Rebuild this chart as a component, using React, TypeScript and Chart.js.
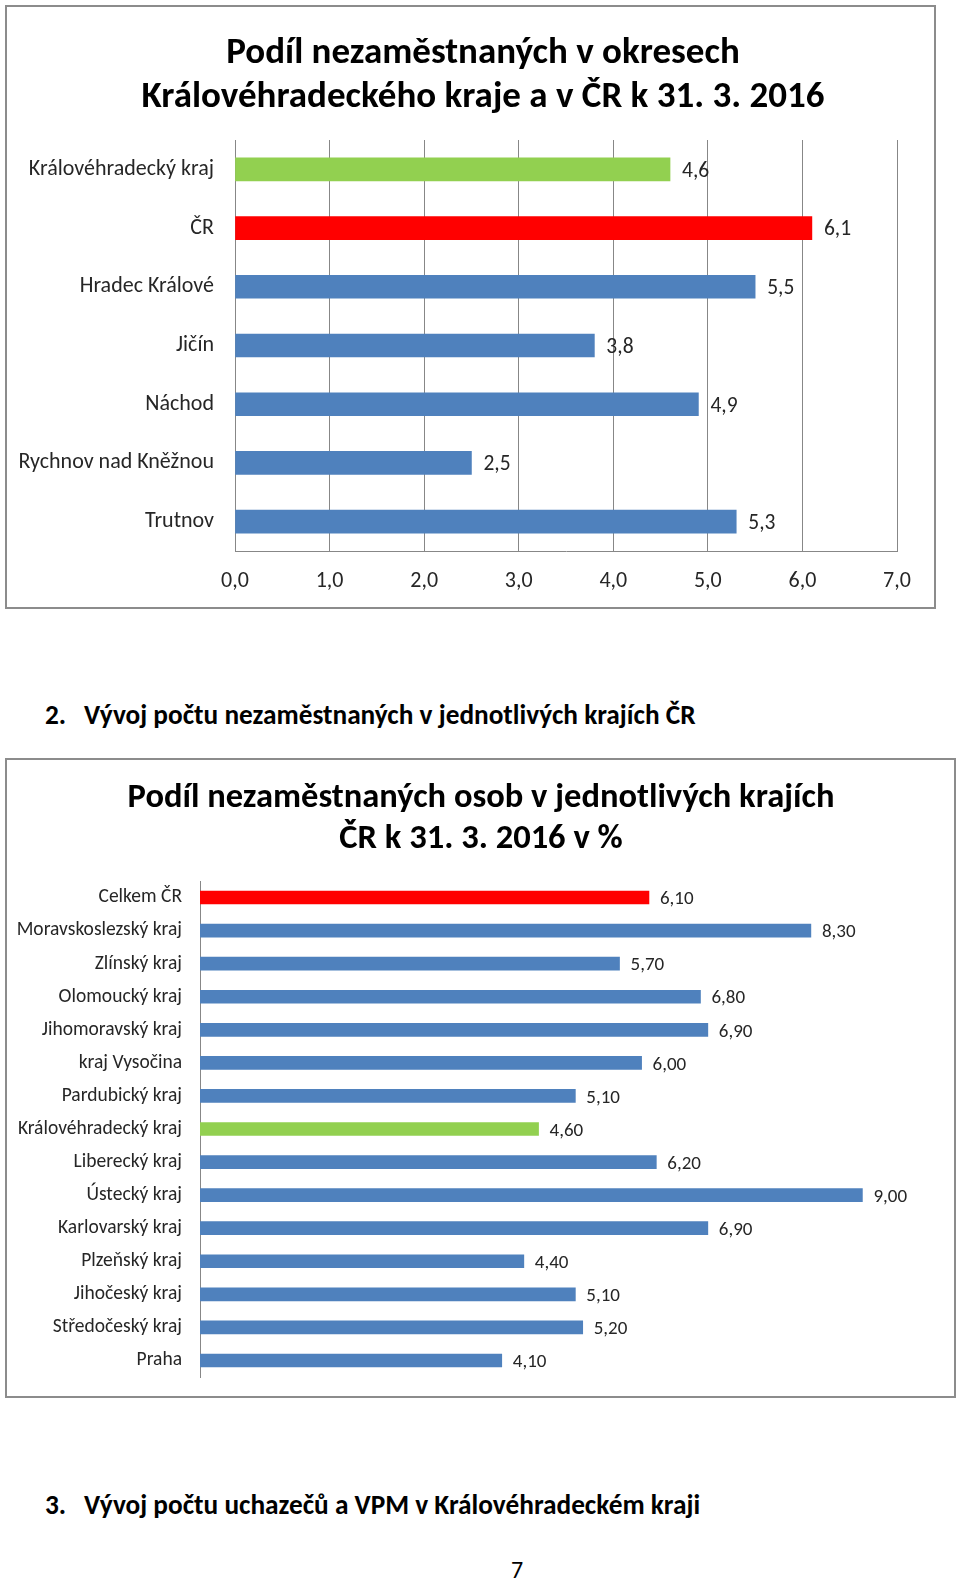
import React, { useEffect, useRef } from "react";
import { Chart, registerables } from "chart.js";

Chart.register(...registerables);

// ---------- Data ----------
const districtLabels = [
  "Královéhradecký kraj",
  "ČR",
  "Hradec Králové",
  "Jičín",
  "Náchod",
  "Rychnov nad Kněžnou",
  "Trutnov",
];
const districtValues = [4.6, 6.1, 5.5, 3.8, 4.9, 2.5, 5.3];

const regionLabels = [
  "Celkem ČR",
  "Moravskoslezský kraj",
  "Zlínský kraj",
  "Olomoucký kraj",
  "Jihomoravský kraj",
  "kraj Vysočina",
  "Pardubický kraj",
  "Královéhradecký kraj",
  "Liberecký kraj",
  "Ústecký kraj",
  "Karlovarský kraj",
  "Plzeňský kraj",
  "Jihočeský kraj",
  "Středočeský kraj",
  "Praha",
];
const regionValues = [6.1, 8.3, 5.7, 6.8, 6.9, 6.0, 5.1, 4.6, 6.2, 9.0, 6.9, 4.4, 5.1, 5.2, 4.1];

const title1 = ["Podíl nezaměstnaných v okresech", "Královéhradeckého kraje a v ČR k 31. 3. 2016"];
const title2 = ["Podíl nezaměstnaných osob v jednotlivých krajích", "ČR k 31. 3. 2016 v %"];
const heading2 = ["2.", "Vývoj počtu nezaměstnaných v jednotlivých krajích ČR"];
const heading3 = ["3.", "Vývoj počtu uchazečů a VPM v Královéhradeckém kraji"];
const pageNumber = "7";

const redLabels = ["ČR", "Celkem ČR"];
const greenLabels = ["Královéhradecký kraj"];

// ---------- Styles ----------
const FONT = "Carlito, Calibri, 'Liberation Sans Narrow', 'Open Sans', sans-serif";
const BLUE = "#4F81BD";
const RED = "#FF0000";
const GREEN = "#92D050";
const GRID = "#878787";
const TEXT = "#262626";

const colorFor = (lbl: string) =>
  redLabels.includes(lbl) ? RED : greenLabels.includes(lbl) ? GREEN : BLUE;

const fmt = (v: number, d: number) => v.toFixed(d).replace(".", ",");

function makeLabelPlugin(decimals: number, size: number, offset: number) {
  return {
    id: "valueLabels",
    afterDatasetsDraw(chart: any) {
      const ctx = chart.ctx;
      ctx.save();
      ctx.font = `${size}px ${FONT}`;
      ctx.fillStyle = TEXT;
      ctx.textAlign = "left";
      ctx.textBaseline = "middle";
      chart.data.datasets.forEach((ds: any, di: number) => {
        const meta = chart.getDatasetMeta(di);
        meta.data.forEach((el: any, i: number) => {
          ctx.fillText(fmt(ds.data[i], decimals), el.x + offset, el.y + 2);
        });
      });
      ctx.restore();
    },
  };
}

// Title drawn by a small Chart.js plugin, centred on a fixed x
function makeTitlePlugin(lines: string[], size: number, cx: number, ys: number[]) {
  return {
    id: "fixedTitle",
    afterDraw(chart: any) {
      const ctx = chart.ctx;
      ctx.save();
      ctx.font = `bold ${size}px ${FONT}`;
      ctx.fillStyle = "#000";
      ctx.textAlign = "center";
      ctx.textBaseline = "middle";
      lines.forEach((l, i) => ctx.fillText(l, cx, ys[i]));
      ctx.restore();
    },
  };
}

function Chart1() {
  const ref = useRef<HTMLCanvasElement>(null);
  useEffect(() => {
    const chart = new Chart(ref.current!, {
      type: "bar",
      data: {
        labels: districtLabels,
        datasets: [
          {
            data: districtValues,
            backgroundColor: districtLabels.map(colorFor),
            barThickness: 23,
          },
        ],
      },
      options: {
        indexAxis: "y",
        animation: false,
        responsive: false,
        layout: { padding: { left: 0, right: 37, top: 133, bottom: 0 } },
        plugins: {
          legend: { display: false },
          tooltip: { enabled: false },
          title: { display: false },
        },
        scales: {
          x: {
            min: 0,
            max: 7,
            ticks: {
              stepSize: 1,
              padding: 17,
              color: TEXT,
              font: { family: FONT, size: 22 },
              callback: (v: any) => fmt(Number(v), 1),
            },
            grid: { color: GRID, drawTicks: false },
            border: { color: GRID, width: 1 },
            afterFit: (s: any) => {
              s.height = 56;
            },
          },
          y: {
            ticks: {
              padding: 21,
              color: TEXT,
              font: { family: FONT, size: 22 },
            },
            grid: { display: false, drawTicks: false },
            border: { display: true, color: GRID, width: 1 },
            afterFit: (s: any) => {
              s.width = 228;
              s.paddingTop = 0;
              s.paddingBottom = 0;
            },
          },
        },
      },
      plugins: [makeLabelPlugin(1, 21.5, 12), makeTitlePlugin(title1, 37, 476, [46.5, 91])],
    } as any);
    return () => chart.destroy();
  }, []);
  return <canvas ref={ref} width={927} height={600} style={{ display: "block" }} />;
}

function Chart2() {
  const ref = useRef<HTMLCanvasElement>(null);
  useEffect(() => {
    const chart = new Chart(ref.current!, {
      type: "bar",
      data: {
        labels: regionLabels,
        datasets: [
          {
            data: regionValues,
            backgroundColor: regionLabels.map(colorFor),
            barThickness: 13,
          },
        ],
      },
      options: {
        indexAxis: "y",
        animation: false,
        responsive: false,
        layout: { padding: { left: 0, right: 18, top: 121, bottom: 19 } },
        plugins: {
          legend: { display: false },
          tooltip: { enabled: false },
          title: { display: false },
        },
        scales: {
          x: {
            display: false,
            min: 0,
            max: 10,
          },
          y: {
            ticks: {
              padding: 18,
              color: TEXT,
              font: { family: FONT, size: 19.5 },
            },
            grid: { display: false, drawTicks: false },
            border: { display: true, color: GRID, width: 1 },
            afterFit: (s: any) => {
              s.width = 193;
              s.paddingTop = 0;
              s.paddingBottom = 0;
            },
          },
        },
      },
      plugins: [makeLabelPlugin(2, 19, 11), makeTitlePlugin(title2, 34.5, 474, [38, 79])],
    } as any);
    return () => chart.destroy();
  }, []);
  return <canvas ref={ref} width={947} height={636} style={{ display: "block" }} />;
}

const boxStyle = (left: number, top: number, w: number, h: number): React.CSSProperties => ({
  position: "absolute",
  left,
  top,
  width: w,
  height: h,
  boxSizing: "border-box",
  border: "2px solid #8C8C8C",
  background: "#fff",
});

function Heading({ parts, top }: { parts: string[]; top: number }) {
  return (
    <div
      style={{
        position: "absolute",
        left: 45,
        top,
        display: "flex",
        fontFamily: FONT,
        fontWeight: "bold",
        fontSize: 27.3,
        lineHeight: "30px",
        color: "#000",
        whiteSpace: "nowrap",
      }}
    >
      <span style={{ width: 39, display: "inline-block" }}>{parts[0]}</span>
      <span>{parts[1]}</span>
    </div>
  );
}

export default function App() {
  return (
    <div
      style={{
        position: "absolute",
        left: 0,
        top: 0,
        width: 960,
        height: 1581,
        background: "#fff",
        overflow: "hidden",
      }}
    >
      <div style={boxStyle(5, 5, 931, 604)}>
        <Chart1 />
      </div>
      <Heading parts={heading2} top={700} />
      <div style={boxStyle(5, 758, 951, 640)}>
        <Chart2 />
      </div>
      <Heading parts={heading3} top={1490} />
      <div
        style={{
          position: "absolute",
          left: 0,
          width: 960,
          top: 1556,
          textAlign: "center",
          fontFamily: FONT,
          fontSize: 24,
          lineHeight: "28px",
          color: "#000",
          paddingLeft: 74,
          boxSizing: "border-box",
        }}
      >
        {pageNumber}
      </div>
    </div>
  );
}
